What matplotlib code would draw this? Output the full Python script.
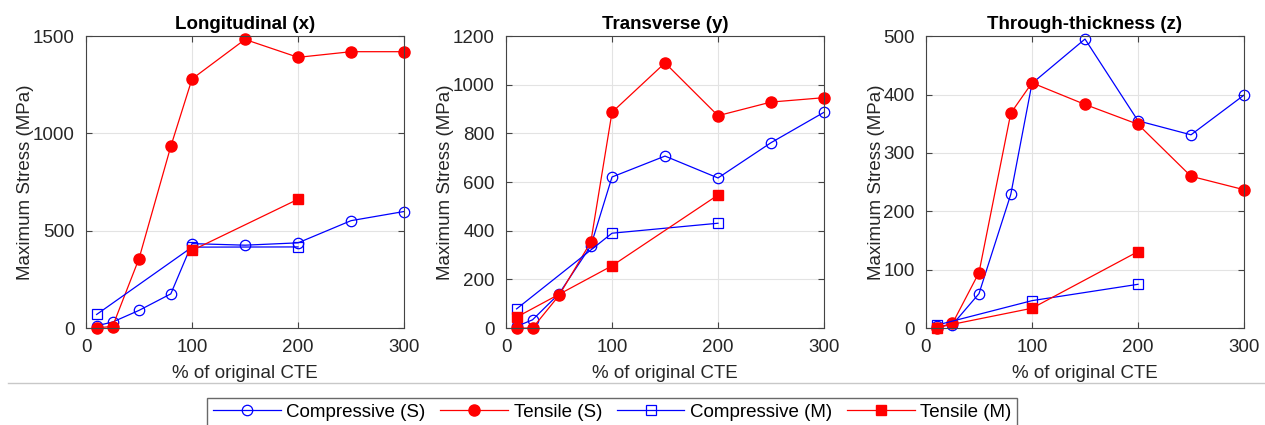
import numpy as np
import matplotlib
matplotlib.use('Agg')
import matplotlib.pyplot as plt
from matplotlib.lines import Line2D

plt.rcParams['font.family'] = ['Liberation Sans', 'DejaVu Sans']

cte_s = [10, 25, 50, 80, 100, 150, 200, 250, 300]
cte_m = [10, 100, 200]

titles = ['Longitudinal (x)', 'Transverse (y)', 'Through-thickness (z)']
ylims = [1500, 1200, 500]
yticks = [[0, 500, 1000, 1500], [0, 200, 400, 600, 800, 1000, 1200], [0, 100, 200, 300, 400, 500]]

# x direction
comp_s_x = [12, 31, 91, 176, 434, 426, 438, 552, 599]
tens_s_x = [2, 8, 357, 934, 1280, 1483, 1391, 1420, 1420]
comp_m_x = [70, 416, 417]
tens_m_x = [np.nan, 399, 662]

# y direction
comp_s_y = [7, 34, 141, 338, 621, 707, 617, 762, 887]
tens_s_y = [0, 0, 134, 354, 887, 1090, 873, 929, 947]
comp_m_y = [79, 390, 431]
tens_m_y = [45, 256, 547]

# z direction
comp_s_z = [3, 6, 59, 229, 419, 495, 355, 331, 399]
tens_s_z = [0, 8, 95, 368, 420, 383, 349, 260, 237]
comp_m_z = [5, 47, 75]
tens_m_z = [1, 34, 131]

data = [
    (comp_s_x, tens_s_x, comp_m_x, tens_m_x),
    (comp_s_y, tens_s_y, comp_m_y, tens_m_y),
    (comp_s_z, tens_s_z, comp_m_z, tens_m_z),
]

blue = '#0000ff'
red = '#ff0000'

fig = plt.figure(figsize=(12.65, 4.25), dpi=100)
lefts = [0.068, 0.400, 0.732]

for i in range(3):
    ax = fig.add_axes([lefts[i], 0.228, 0.2514, 0.687])
    cs, ts, cm, tm = data[i]
    h1, = ax.plot(cte_s, cs, color=blue, lw=0.9, marker='o', ms=7.5, mfc='none', mec=blue, mew=0.9, label='Compressive (S)')
    h2, = ax.plot(cte_s, ts, color=red, lw=0.9, marker='o', ms=8, mfc=red, mec=red, label='Tensile (S)')
    h3, = ax.plot(cte_m, cm, color=blue, lw=0.9, marker='s', ms=7, mfc='none', mec=blue, mew=0.9, label='Compressive (M)')
    h4, = ax.plot(cte_m, tm, color=red, lw=0.9, marker='s', ms=7.5, mfc=red, mec=red, label='Tensile (M)')
    for ln in (h1, h2, h3, h4):
        ln.set_clip_on(False)
    ax.set_xlim(0, 300)
    ax.set_ylim(0, ylims[i])
    ax.set_xticks([0, 100, 200, 300])
    ax.set_yticks(yticks[i])
    ax.grid(True, color='#e3e3e3', lw=0.8)
    ax.set_axisbelow(True)
    ax.tick_params(direction='in', top=True, right=True, length=4, color='#444444',
                   labelsize=13.5, labelcolor='#262626', pad=8)
    for sp in ax.spines.values():
        sp.set_color('#444444')
        sp.set_linewidth(0.8)
    ax.set_title(titles[i], fontsize=13.5, fontweight='bold', pad=5)
    ax.set_xlabel('% of original CTE', fontsize=13.5, color='#262626', labelpad=6)
    ax.set_ylabel('Maximum Stress (MPa)', fontsize=13.5, color='#262626', labelpad=-1)

fig.add_artist(Line2D([0.006, 1.0], [0.0988, 0.0988], color='#c8c8c8', lw=1.0))

fig.legend(handles=[h1, h2, h3, h4], loc='upper center', bbox_to_anchor=(0.484, 0.064),
           ncol=4, fontsize=13.5, frameon=True, fancybox=False, edgecolor='#444444',
           handlelength=3.6, columnspacing=0.8, handletextpad=0.3, borderpad=0.3,
           borderaxespad=0.0)

fig.savefig('out.png', dpi=100)
